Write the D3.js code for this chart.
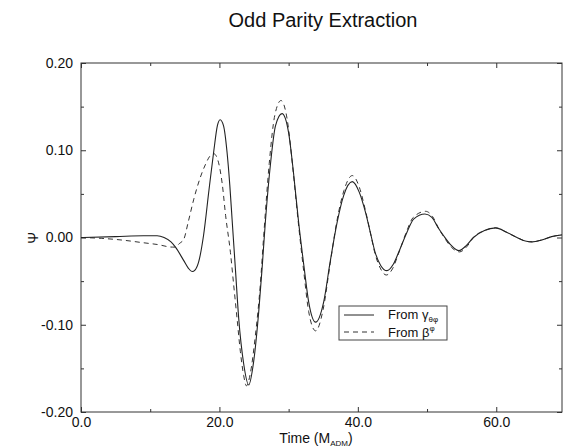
<!DOCTYPE html>
<html>
<head>
<meta charset="utf-8">
<script src="https://cdn.jsdelivr.net/npm/d3@7"></script>
<style>
  body { margin: 0; background: #fff; }
  svg { font-family: "Liberation Sans", Arial, sans-serif; }
  .tick text { font-family: "Liberation Sans", Arial, sans-serif; font-size: 14px; fill: #111; }
  .tick line { stroke: #333; }
</style>
</head>
<body>
<svg width="565" height="448"></svg>
<script>
// time (M_ADM) and Psi
var gammaT = [0, 5, 9, 11, 12, 13, 13.65, 14.85, 15.5, 16.05, 16.5, 17.0, 17.7, 18.5, 19.2, 19.7, 20.1, 20.6, 21.1, 21.5, 21.83, 22.31, 22.79, 23.51, 24.23, 24.95, 25.68, 26.16, 26.64, 27.4, 28.1, 29.05, 30.0, 30.7, 31.45, 32.2, 32.9, 33.9, 35.06, 36.0, 37.0, 37.95, 39.2, 40.2, 41.1, 41.8, 42.5, 43.3, 44.2, 45.1, 45.9, 47.1, 48.06, 49.7, 50.7, 51.7, 52.4, 53.5, 54.6, 55.7, 56.7, 58.3, 59.9, 61.5, 63.0, 64.2, 65.2, 66.5, 68.0, 69.5];
var gammaPsi = [0.000, 0.001, 0.002, 0.002, 0.000, -0.005, -0.011, -0.0265, -0.035, -0.039, -0.037, -0.028, 0.002, 0.055, 0.100, 0.128, 0.135, 0.128, 0.098, 0.060, 0.021, -0.036, -0.093, -0.145, -0.169, -0.142, -0.085, -0.036, 0.018, 0.086, 0.128, 0.142, 0.120, 0.0745, 0.017, -0.032, -0.074, -0.097, -0.074, -0.028, 0.017, 0.048, 0.064, 0.052, 0.029, 0.006, -0.017, -0.032, -0.038, -0.031, -0.017, 0.006, 0.021, 0.027, 0.023, 0.010, 0.002, -0.009, -0.015, -0.009, 0.000, 0.008, 0.011, 0.006, 0.000, -0.004, -0.005, -0.003, 0.001, 0.003];

var betaT = [0, 3, 6, 9, 11, 13.2, 13.65, 14.2, 14.85, 15.5, 16.3, 17.2, 18.0, 18.6, 19.2, 19.8, 20.4, 20.9, 21.59, 22.07, 22.55, 23.03, 23.5, 23.9, 24.46, 25.2, 25.9, 26.4, 27.2, 28.0, 28.9, 29.8, 30.6, 31.4, 32.2, 32.9, 33.9, 35.0, 36.0, 37.0, 38.0, 39.2, 40.2, 41.1, 41.8, 42.5, 43.3, 44.1, 45.0, 45.9, 47.0, 48.0, 49.8, 50.8, 51.7, 52.4, 53.5, 54.7, 55.8, 56.7, 58.3, 59.9, 61.5, 63.0, 64.2, 65.2, 66.5, 68.0, 69.5];
var betaPsi = [0.000, -0.001, -0.003, -0.006, -0.008, -0.011, -0.011, -0.007, -0.002, 0.018, 0.044, 0.068, 0.084, 0.093, 0.096, 0.088, 0.062, 0.025, -0.017, -0.055, -0.093, -0.131, -0.158, -0.170, -0.156, -0.112, -0.055, 0.002, 0.085, 0.140, 0.157, 0.135, 0.080, 0.017, -0.040, -0.085, -0.107, -0.082, -0.030, 0.020, 0.054, 0.071, 0.058, 0.031, 0.006, -0.019, -0.036, -0.043, -0.036, -0.018, 0.006, 0.023, 0.030, 0.024, 0.010, 0.001, -0.011, -0.0165, -0.010, 0.000, 0.008, 0.011, 0.006, 0.000, -0.004, -0.005, -0.003, 0.001, 0.003];

var xMajor = [0, 20, 40, 60],
    xMinor = [10, 30, 50],
    yMajor = [-0.2, -0.1, 0, 0.1, 0.2],
    yMinor = [-0.15, -0.05, 0.05, 0.15];

var svg = d3.select("svg");

var plotL = 81, plotR = 562, plotT = 63, plotB = 412;

var x = d3.scaleLinear().domain([0, 69.5]).range([plotL, plotR]);
var y = d3.scaleLinear().domain([-0.2, 0.2]).range([plotB, plotT]);

// frame
svg.append("rect")
    .attr("x", plotL).attr("y", plotT)
    .attr("width", plotR - plotL).attr("height", plotB - plotT)
    .attr("fill", "none").attr("stroke", "#333").attr("stroke-width", 1);

function axis(a, tr) {
  var g = svg.append("g").attr("transform", tr).call(a);
  g.select(".domain").remove();
  return g;
}

// major ticks with labels (inside ticks)
axis(d3.axisBottom(x).tickValues(xMajor).tickSizeInner(-5).tickSizeOuter(0).tickPadding(5)
    .tickFormat(function(d) { return d.toFixed(1); }), "translate(0," + plotB + ")");
axis(d3.axisLeft(y).tickValues(yMajor).tickSizeInner(-5).tickSizeOuter(0).tickPadding(8)
    .tickFormat(function(d) { return d.toFixed(2); }), "translate(" + plotL + ",0)");
axis(d3.axisTop(x).tickValues(xMajor).tickSizeInner(-5).tickSizeOuter(0).tickFormat(""), "translate(0," + plotT + ")");
axis(d3.axisRight(y).tickValues(yMajor).tickSizeInner(-5).tickSizeOuter(0).tickFormat(""), "translate(" + plotR + ",0)");
// minor ticks
axis(d3.axisBottom(x).tickValues(xMinor).tickSizeInner(-3).tickSizeOuter(0).tickFormat(""), "translate(0," + plotB + ")");
axis(d3.axisTop(x).tickValues(xMinor).tickSizeInner(-3).tickSizeOuter(0).tickFormat(""), "translate(0," + plotT + ")");
axis(d3.axisLeft(y).tickValues(yMinor).tickSizeInner(-3).tickSizeOuter(0).tickFormat(""), "translate(" + plotL + ",0)");
axis(d3.axisRight(y).tickValues(yMinor).tickSizeInner(-3).tickSizeOuter(0).tickFormat(""), "translate(" + plotR + ",0)");

var line = d3.line()
    .x(function(d) { return x(d[0]); })
    .y(function(d) { return y(d[1]); })
    .curve(d3.curveMonotoneX);

svg.append("path")
    .datum(d3.zip(betaT, betaPsi))
    .attr("d", line)
    .attr("fill", "none").attr("stroke", "#333").attr("stroke-width", 1)
    .attr("stroke-dasharray", "5,4");

svg.append("path")
    .datum(d3.zip(gammaT, gammaPsi))
    .attr("d", line)
    .attr("fill", "none").attr("stroke", "#222").attr("stroke-width", 1.1);

// title
svg.append("text")
    .attr("x", 323).attr("y", 27)
    .attr("text-anchor", "middle")
    .attr("font-size", 20).attr("fill", "#111")
    .text("Odd Parity Extraction");

// x label
var xl = svg.append("text")
    .attr("x", 316).attr("y", 443)
    .attr("text-anchor", "middle")
    .attr("font-size", 14).attr("fill", "#111");
xl.append("tspan").text("Time (M");
xl.append("tspan").attr("font-size", 8).attr("dy", 3).text("ADM");
xl.append("tspan").attr("dy", -3).text(")");

// y label
svg.append("text")
    .attr("transform", "translate(38,238) rotate(-90)")
    .attr("text-anchor", "middle")
    .attr("font-size", 14).attr("fill", "#111")
    .text("\u03a8");

// legend
var lg = svg.append("g");
lg.append("rect")
    .attr("x", 339).attr("y", 306).attr("width", 108).attr("height", 34)
    .attr("fill", "#fff").attr("stroke", "#444").attr("stroke-width", 1);
lg.append("line").attr("x1", 344).attr("x2", 374).attr("y1", 315).attr("y2", 315)
    .attr("stroke", "#222").attr("stroke-width", 1);
lg.append("line").attr("x1", 344).attr("x2", 374).attr("y1", 332).attr("y2", 332)
    .attr("stroke", "#333").attr("stroke-width", 1).attr("stroke-dasharray", "5,4");
var t1 = lg.append("text").attr("x", 388).attr("y", 319).attr("font-size", 13).attr("fill", "#111");
t1.append("tspan").text("From \u03b3");
t1.append("tspan").attr("font-size", 8).attr("dy", 3).text("\u03b8\u03c6");
var t2 = lg.append("text").attr("x", 388).attr("y", 337).attr("font-size", 13).attr("fill", "#111");
t2.append("tspan").text("From \u03b2");
t2.append("tspan").attr("font-size", 8).attr("dy", -6).text("\u03c6");
</script>
</body>
</html>
